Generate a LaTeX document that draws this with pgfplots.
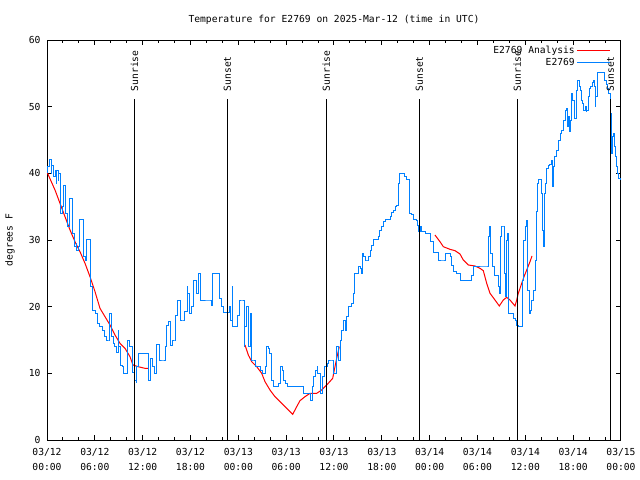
\documentclass[border=0pt]{standalone}
\usepackage{fontspec}
\setmainfont{DejaVu Sans Mono}
\usepackage{pgfplots}
\pgfplotsset{compat=1.18}
\definecolor{tblue}{RGB}{0,128,255}
\definecolor{tred}{RGB}{255,0,0}
\begin{document}
\begin{tikzpicture}[font=\fontsize{9.7}{11.6}\selectfont]
\begin{axis}[
  scale only axis, width=574bp, height=400bp,
  xmin=0, xmax=72, ymin=0, ymax=60,
  xtick={0,6,...,72}, minor x tick num=2,
  ytick={0,10,...,60},
  xticklabels={{03/12\\00:00},{03/12\\06:00},{03/12\\12:00},{03/12\\18:00},{03/13\\00:00},{03/13\\06:00},{03/13\\12:00},{03/13\\18:00},{03/14\\00:00},{03/14\\06:00},{03/14\\12:00},{03/14\\18:00},{03/15\\00:00}},
  xticklabel style={align=center, font=\fontsize{9.7}{14.5}\selectfont, yshift=-5bp},
  yticklabel style={xshift=-3bp},
  tick align=inside,
  major tick length=5bp, minor tick length=3bp,
  axis line style={line width=1bp},
  every tick/.style={black, line width=1bp},
  ylabel={degrees F},
  ylabel style={at={(axis description cs:-0.0645,0.5)}, anchor=center},
  title={Temperature for E2769 on 2025-Mar-12 (time in UTC)},
  title style={at={(axis description cs:0.5,1.035)}, anchor=center},
  /pgf/number format/assume math mode=true,
  legend style={draw=none, fill=none, at={(1,1)}, anchor=north east, xshift=-7bp, yshift=-2bp,
    row sep=-1bp, font=\fontsize{9.7}{11.6}\selectfont},
  legend cell align=right, legend plot pos=right,
  legend image code/.code={\path (0bp,0bp) -- (4bp,0bp); \draw[#1] (4bp,0bp) -- (33bp,0bp);},
]
\coordinate (sw) at (rel axis cs:0,0);
% Analysis (red), three segments
\addplot[tred, line width=1bp] coordinates {
(0,40.2) (1.004,37.5) (1.631,35.5) (2.258,33.5) (2.885,31.5) (3.512,29.75) (4.139,28.25)
(4.767,26.5) (5.394,24.5) (6.021,22.25) (6.648,19.75) (7.275,18.5) (7.902,17.25) (8.529,15.75)
(9.157,14.5) (9.784,13.75) (10.411,12.5) (10.787,11.25) (11.415,11) (12.293,10.75) (12.707,10.75)
};
\addlegendentry{E2769 Analysis}
\addplot[tred, line width=1bp, forget plot] coordinates {
(24.836,14.25) (25.251,12.75) (25.677,11.75) (26.304,11) (26.932,10) (27.345,8.75) (27.972,7.5)
(28.599,6.5) (29.227,5.75) (29.854,5) (30.820,3.85) (31.322,5) (31.735,5.9) (32.362,6.5)
(32.990,7) (33.830,7) (34.457,7.5) (35.085,8.25) (35.837,9.25) (36.038,10.5) (36.339,12.25) (36.665,14)
};
\addplot[tred, line width=1bp, forget plot] coordinates {
(48.669,30.75) (49.296,29.75) (49.711,29) (50.551,28.6) (51.178,28.4) (51.805,27.9) (52.219,27)
(52.846,26.25) (53.687,26.1) (54.314,25.75) (54.728,25.4) (55.155,23.5) (55.569,22) (56.195,21)
(56.735,20.1) (57.237,21) (57.664,21.4) (58.078,21) (58.705,20.1) (58.918,21) (59.119,22)
(59.545,23.5) (59.834,24.5) (60.173,25.5) (60.586,26.75) (60.837,27.6)
};
% Observations (blue)
\addplot[tblue, line width=1bp, const plot] coordinates {
(0,40.2) (0.125,41) (0.376,42.1) (0.502,40) (0.627,41.2) (0.878,39.5) (1.004,40.5) (1.129,38.5)
(1.254,40.5) (1.380,39) (1.505,40) (1.631,38) (1.756,34) (1.882,35) (2.007,37.5) (2.132,38.2)
(2.258,35) (2.383,34) (2.509,32) (2.760,32) (2.885,36.2) (3.136,36.2) (3.261,31) (3.512,29)
(3.638,29.5) (3.763,28.5) (3.889,29) (4.139,33.1) (4.390,33.1) (4.516,27.5) (4.767,27) (4.892,30.1)
(5.268,30.1) (5.394,27) (5.519,23) (5.770,19.5) (6.021,19) (6.272,18.5) (6.397,17.5) (6.648,17)
(6.899,16.5) (7.150,15.5) (7.526,15) (7.777,15) (7.902,19) (8.028,17) (8.153,15.5) (8.279,14.5)
(8.529,14) (8.780,13.2) (8.906,16.5) (9.031,14) (9.157,11.2) (9.408,11) (9.658,10) (9.909,10)
(10.035,12.5) (10.160,15) (10.411,14) (10.662,14) (10.787,10.2) (11.038,9) (11.164,8.7) (11.289,11)
(11.415,13) (12.669,13) (12.732,9) (12.920,12.3) (13.171,11.5) (13.296,11) (13.422,10) (13.673,14.3)
(13.923,14.3) (14.174,12) (14.551,12) (14.802,14) (15.052,17.25) (15.178,17.75) (15.429,14.25) (15.680,15)
(16.056,15) (16.181,18.75) (16.432,21) (16.683,18) (17.059,18) (17.310,19.25) (17.561,23) (17.686,22)
(17.937,19) (18.188,20) (18.439,24) (18.690,23) (18.815,22) (18.941,25) (19.192,25) (19.317,21)
(20.446,21) (20.659,20.25) (20.760,25) (21.450,25) (21.700,21.3) (21.951,20) (22.077,19.1) (22.579,19.1)
(22.830,20) (22.955,18) (23.206,23) (23.331,17) (23.833,17) (23.958,18.75) (24.209,21) (24.460,21)
(24.711,14) (24.836,17) (25.050,20) (25.213,14) (25.464,19) (25.589,14) (25.714,12) (25.840,12)
(26.091,11) (26.342,11) (26.718,10.5) (26.969,10) (27.094,10) (27.345,11) (27.471,14) (27.722,13.8)
(27.972,13) (28.223,9) (28.349,8) (28.599,8) (28.850,8) (28.976,8.5) (29.227,11) (29.478,10.5)
(29.603,9) (29.854,8.5) (30.105,8) (31.986,8) (32.112,7) (32.739,7) (32.990,6) (33.241,8)
(33.366,9.5) (33.617,10.5) (33.868,11) (33.993,10) (34.244,7) (34.495,7.5) (34.620,9.5) (34.871,11)
(35.122,11.5) (35.248,12) (35.749,12) (35.875,10) (36.126,10) (36.376,14) (36.502,12) (36.753,15)
(36.966,16.5) (37.129,18) (37.380,16.5) (37.593,18.5) (37.794,20) (38.221,20.5) (38.421,22) (38.634,25)
(38.885,25) (39.048,26) (39.262,25.8) (39.387,25) (39.550,28) (39.676,27.5) (39.889,27) (40.140,27)
(40.303,27.5) (40.517,28.5) (40.730,29.25) (40.931,30.1) (41.357,30.1) (41.558,30.5) (41.770,31.5) (41.984,32)
(42.184,32.75) (42.398,33.1) (42.812,33.1) (43.025,33.5) (43.238,34.1) (43.439,34.5) (43.652,35) (43.866,35.2)
(44.066,38.5) (44.192,40) (44.618,40) (44.819,39.5) (45.032,39.1) (45.246,39.1) (45.446,34) (45.747,33.8)
(45.948,33.1) (46.286,33) (46.449,32.25) (46.575,31.25) (46.788,32) (47.001,31.25) (47.202,31.25) (47.415,31)
(47.791,31) (48.042,29.75) (48.256,29.75) (48.456,28.1) (48.883,28.1) (49.084,27) (49.711,27) (49.924,28)
(50.338,28) (50.551,27.6) (50.765,26.25) (50.965,25.25) (51.392,25) (51.805,24) (52.019,23.9) (53.060,23.9)
(53.273,24.75) (53.474,26.1) (55.155,26.1) (55.356,30.5) (55.481,32.1) (55.657,28) (55.908,26) (56.195,24.75)
(56.610,23) (56.735,22) (56.911,30.5) (57.036,32.1) (57.237,32.1) (57.363,25) (57.488,21.5) (57.664,30)
(57.789,31) (57.865,19) (58.291,19) (58.492,18.25) (58.704,18) (58.918,17.25) (59.119,17) (59.545,17)
(59.671,24) (59.746,30) (59.959,32) (60.173,33) (60.248,22.5) (60.460,19) (60.586,19.5) (60.799,21)
(61.000,22.5) (61.213,27) (61.338,34.25) (61.502,38.5) (61.627,39.1) (61.965,39.1) (62.053,37) (62.128,31.5)
(62.254,29) (62.342,37) (62.467,38.5) (62.593,40.75) (62.881,41.25) (63.094,41.4) (63.308,42) (63.433,38)
(63.508,41) (63.721,42.5) (63.935,43.5) (64.135,45) (64.349,46) (64.562,46.5) (64.763,48) (64.976,49.5)
(65.189,49.8) (65.315,47) (65.390,48.5) (65.516,46.25) (65.603,48) (65.729,52) (65.942,51) (66.105,48.25)
(66.230,48.25) (66.356,52.5) (66.519,54) (66.770,53) (66.945,52.5) (67.071,51) (67.196,50.5) (67.272,49.5)
(67.485,50) (67.610,49.3) (67.698,49.5) (67.899,51.5) (68.024,52.7) (68.200,53) (68.363,53.7) (68.526,54)
(68.652,53) (68.739,50) (68.864,51.5) (69.028,55.1) (69.780,55.1) (69.993,54) (70.119,53.3) (70.282,52.7)
(70.407,52) (70.621,51) (70.708,49) (70.784,44.5) (70.834,43) (70.909,45.5) (71.035,46) (71.160,44)
(71.336,42.5) (71.461,41) (71.587,40) (71.712,39.25) (71.875,39)
};
\addlegendentry{E2769}
% Sunrise / sunset markers
\addplot[black, line width=1bp, forget plot] coordinates {(10.98,0) (10.98,51.15)};
\addplot[black, line width=1bp, forget plot] coordinates {(22.61,0) (22.61,51.15)};
\addplot[black, line width=1bp, forget plot] coordinates {(35.03,0) (35.03,51.15)};
\addplot[black, line width=1bp, forget plot] coordinates {(46.70,0) (46.70,51.15)};
\addplot[black, line width=1bp, forget plot] coordinates {(58.99,0) (58.99,51.15)};
\addplot[black, line width=1bp, forget plot] coordinates {(70.65,0) (70.65,51.15)};
\node[rotate=90, anchor=west, inner sep=0pt] at (axis cs:10.98,52.3) {Sunrise};
\node[rotate=90, anchor=west, inner sep=0pt] at (axis cs:22.61,52.3) {Sunset};
\node[rotate=90, anchor=west, inner sep=0pt] at (axis cs:35.03,52.3) {Sunrise};
\node[rotate=90, anchor=west, inner sep=0pt] at (axis cs:46.70,52.3) {Sunset};
\node[rotate=90, anchor=west, inner sep=0pt] at (axis cs:58.99,52.3) {Sunrise};
\node[rotate=90, anchor=west, inner sep=0pt] at (axis cs:70.65,52.3) {Sunset};
\end{axis}
\pgfresetboundingbox
\path (sw) ++(-47bp,-40bp) rectangle ++(640bp,480bp);
\end{tikzpicture}
\end{document}
